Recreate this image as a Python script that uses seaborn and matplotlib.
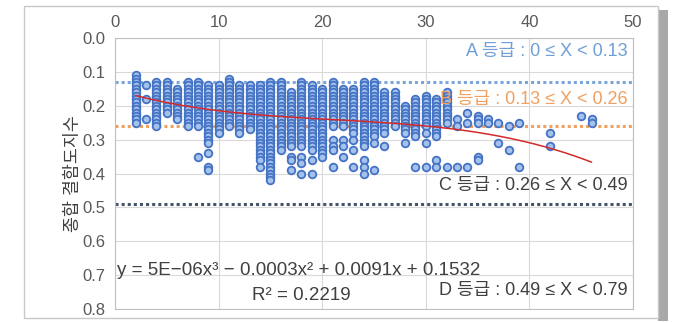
import numpy as np
import pandas as pd
import matplotlib
matplotlib.use("Agg")
import matplotlib.pyplot as plt
from matplotlib.patches import Rectangle
import seaborn as sns

# ---------------- data (y values in hundredths) ----------------
col_x = [2, 3, 4, 5, 6, 7, 8, 9, 10, 11, 12, 13, 14, 15, 16, 17, 18, 19, 20,
         21, 22, 23, 24, 25, 26, 27, 28, 29, 30, 31, 32, 33, 34, 35, 36, 37,
         38, 39, 42, 45, 46]
col_y = [
    [11, 12, 13, 14, 15, 16, 17, 18, 19, 20, 21, 22, 23, 24, 25],
    [14, 18, 24],
    [13, 14, 15, 16, 17, 18, 19, 20, 21, 22, 23, 24, 25, 26],
    [13, 14, 15, 16, 17, 18, 19, 20, 21, 22],
    [15, 16, 17, 18, 19, 20, 21, 22, 23, 24],
    [13, 14, 15, 16, 17, 18, 19, 20, 21, 22, 23, 24, 25, 26],
    [13, 14, 15, 16, 17, 18, 19, 20, 21, 22, 23, 24, 25, 26, 35],
    [14, 15, 16, 17, 18, 19, 20, 21, 22, 23, 24, 25, 26, 27, 28, 29, 30, 31, 34, 38, 39],
    [14, 15, 16, 17, 18, 19, 20, 21, 22, 23, 24, 25, 26, 27, 28],
    [12, 13, 14, 15, 16, 17, 18, 19, 20, 21, 22, 23, 24, 25, 26],
    [14, 15, 16, 17, 18, 19, 20, 21, 22, 23, 24, 25, 26, 27, 28],
    [14, 15, 16, 17, 18, 19, 20, 21, 22, 23, 24, 25, 26, 27],
    [14, 15, 16, 17, 18, 19, 20, 21, 22, 23, 24, 25, 26, 27, 28, 29, 30, 31, 32, 33, 34, 35, 36, 38],
    [13, 14, 15, 16, 17, 18, 19, 20, 21, 22, 23, 24, 25, 26, 27, 28, 29, 30, 31, 32, 33, 34, 35, 36, 37, 38, 39, 40, 41, 42],
    [13, 14, 15, 16, 17, 18, 19, 20, 21, 22, 23, 24, 25, 26, 27, 28, 29, 30, 31, 32, 33],
    [16, 17, 18, 19, 20, 21, 22, 23, 24, 25, 26, 27, 28, 29, 30, 31, 32, 35, 36, 39],
    [13, 14, 15, 16, 17, 18, 19, 20, 21, 22, 23, 24, 25, 26, 27, 28, 29, 30, 31, 32, 35, 37, 40],
    [14, 15, 16, 17, 18, 19, 20, 21, 22, 23, 24, 25, 26, 27, 28, 29, 30, 31, 32, 33, 36, 40],
    [15, 16, 17, 18, 19, 20, 21, 22, 23, 24, 25, 26, 27, 28, 29, 30, 31, 32, 33, 34, 35],
    [13, 14, 15, 16, 17, 18, 19, 20, 21, 22, 23, 24, 25, 26, 30, 32, 33, 38],
    [15, 16, 17, 18, 19, 20, 21, 22, 23, 24, 25, 26, 30, 32, 35],
    [15, 16, 17, 18, 19, 20, 21, 22, 23, 24, 25, 26, 27, 28, 30, 33, 38],
    [13, 14, 15, 16, 17, 18, 19, 20, 21, 22, 23, 24, 25, 26, 27, 28, 29, 30, 31, 32, 36, 38, 40],
    [13, 14, 15, 16, 17, 18, 19, 20, 21, 22, 23, 24, 25, 26, 27, 28, 29, 31, 39],
    [16, 17, 18, 19, 20, 21, 22, 23, 24, 25, 26, 27, 28, 32],
    [16, 17, 18, 19, 20, 21, 22, 23, 24, 25, 26],
    [20, 21, 22, 23, 24, 25, 26, 27, 28, 31],
    [18, 19, 20, 21, 22, 23, 24, 25, 26, 27, 28, 29, 38],
    [17, 18, 19, 20, 21, 22, 23, 24, 25, 26, 28, 31, 38],
    [18, 19, 20, 21, 22, 23, 24, 25, 26, 27, 28, 29, 36, 38],
    [16, 17, 18, 19, 20, 21, 22, 23, 24, 25, 38],
    [24, 26, 38],
    [22, 25, 38],
    [23, 24, 25, 35, 36],
    [24, 25],
    [25, 31],
    [26, 33],
    [25, 38],
    [28, 32],
    [23],
    [24, 25],
]

# trend line (cubic) coefficients, highest power first
trend_coef = [5.5e-6, -0.00035, 0.0091, 0.1532]
trend_x_range = [2, 46]

grade_levels = [0.13, 0.26, 0.49]
grade_colors = ["#7aa6dc", "#f0a060", "#44546a"]
grade_labels = ["A 등급 : 0 ≤ X < 0.13", "B 등급 : 0.13 ≤ X < 0.26",
                "C 등급 : 0.26 ≤ X < 0.49", "D 등급 : 0.49 ≤ X < 0.79"]
grade_text_y = [0.041, 0.183, 0.434, 0.746]
grade_text_colors = ["#6f9fd6", "#f0a060", "#404040", "#404040"]

x_ticks = [0, 10, 20, 30, 40, 50]
y_ticks = [0.0, 0.1, 0.2, 0.3, 0.4, 0.5, 0.6, 0.7, 0.8]
y_label = "종합 결함도지수"
eq_text = "y = 5E−06x³ − 0.0003x² + 0.0091x + 0.1532"
r2_text = "R² = 0.2219"

# ---------------- build frame ----------------
rows = []
for xv, ylist in zip(col_x, col_y):
    for yv in ylist:
        rows.append((xv, yv / 100.0))
df = pd.DataFrame(rows, columns=["x", "y"])

sns.set_theme(style="white")
plt.rcParams["font.family"] = ["Liberation Sans", "Noto Sans CJK KR", "DejaVu Sans"]
plt.rcParams["axes.unicode_minus"] = True

fig = plt.figure(figsize=(6.74, 3.23), dpi=100)
fig.patch.set_facecolor("white")

# outer picture frame + shadow (behind the axes)
fig.patches.append(Rectangle((658 / 674, 2 / 323), 10 / 674, 311 / 323,
                             transform=fig.transFigure, facecolor="#a8a8a8",
                             edgecolor="none", zorder=-3))
fig.patches.append(Rectangle((24 / 674, 5 / 323), 634 / 674, 312 / 323,
                             transform=fig.transFigure, facecolor="white",
                             edgecolor="#c8c8c8", linewidth=1.0, zorder=-2))

ax = fig.add_axes([115 / 674, 1 - 309 / 323, 518 / 674, 271 / 323])
ax.set_zorder(1)
ax.set_facecolor("white")

sns.scatterplot(data=df, x="x", y="y", ax=ax, marker="o", s=30,
                facecolor="#a4c2ec", edgecolor="#4472c4", linewidth=1.3,
                zorder=3, legend=False)

# grade threshold dotted lines
for lvl, c in zip(grade_levels, grade_colors):
    ax.axhline(lvl, color=c, linestyle=(0, (1, 1)), linewidth=2.2, zorder=2)

# trend line
tx = np.linspace(trend_x_range[0], trend_x_range[1], 200)
ax.plot(tx, np.polyval(trend_coef, tx), color="#d42a2a", linewidth=1.1, zorder=4)

ax.set_xlim(0, 50)
ax.set_ylim(0.8, 0.0)
ax.set_xticks(x_ticks)
ax.set_yticks(y_ticks)
ax.set_yticklabels([f"{v:.1f}" for v in y_ticks])
ax.xaxis.tick_top()
ax.tick_params(axis="both", length=0, labelsize=12, colors="#595959")
ax.tick_params(axis="x", pad=6)
ax.tick_params(axis="y", pad=7)
ax.grid(True, color="#d9d9d9", linewidth=0.8, zorder=0)
ax.set_axisbelow(True)
for sp in ax.spines.values():
    sp.set_color("#c0c0c0")
    sp.set_linewidth(0.8)
ax.set_xlabel("")
ax.set_ylabel(y_label, fontsize=12.5, color="#404040", labelpad=1)

# annotations
for txt, yy, c in zip(grade_labels, grade_text_y, grade_text_colors):
    ax.text(49.5, yy, txt, ha="right", va="center", fontsize=13, color=c, zorder=5)
ax.text(0.2, 0.687, eq_text, ha="left", va="center", fontsize=13.5, color="#404040", zorder=5)
ax.text(18.0, 0.761, r2_text, ha="center", va="center", fontsize=13.5, color="#404040", zorder=5)

fig.savefig("out.png", dpi=100, facecolor="white")
